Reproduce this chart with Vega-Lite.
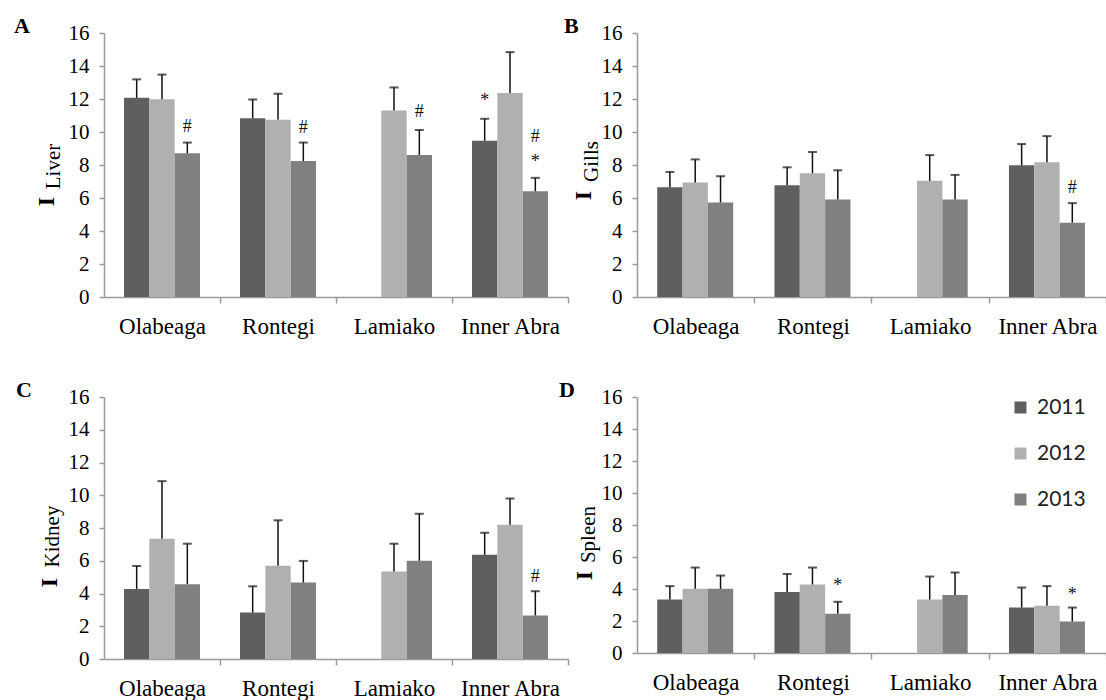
{
  "$schema": "https://vega.github.io/schema/vega-lite/v6.json",
  "padding": {"left": 14, "top": 15, "right": 0, "bottom": 0},
  "background": "white",
  "config": {
    "view": {"stroke": null},
    "axis": {"grid": false, "labelFont": "Liberation Serif", "titleFont": "Liberation Serif", "domainColor": "#9a9a9a", "tickColor": "#9a9a9a", "labelColor": "#000000", "titleColor": "#000000", "domainWidth": 1.5, "tickWidth": 1.5},
    "title": {"font": "Liberation Serif", "fontWeight": "bold", "fontSize": 22, "color": "#000000"}
  },
  "datasets": {
    "bars": [
      {"organ": "Liver", "site": "Olabeaga", "year": "2011", "mean": 12.07, "upper": 13.19},
      {"organ": "Liver", "site": "Olabeaga", "year": "2012", "mean": 11.99, "upper": 13.48},
      {"organ": "Liver", "site": "Olabeaga", "year": "2013", "mean": 8.71, "upper": 9.36},
      {"organ": "Liver", "site": "Rontegi", "year": "2011", "mean": 10.83, "upper": 11.97},
      {"organ": "Liver", "site": "Rontegi", "year": "2012", "mean": 10.75, "upper": 12.32},
      {"organ": "Liver", "site": "Rontegi", "year": "2013", "mean": 8.24, "upper": 9.36},
      {"organ": "Liver", "site": "Lamiako", "year": "2012", "mean": 11.3, "upper": 12.7},
      {"organ": "Liver", "site": "Lamiako", "year": "2013", "mean": 8.61, "upper": 10.12},
      {"organ": "Liver", "site": "Inner Abra", "year": "2011", "mean": 9.47, "upper": 10.8},
      {"organ": "Liver", "site": "Inner Abra", "year": "2012", "mean": 12.36, "upper": 14.84},
      {"organ": "Liver", "site": "Inner Abra", "year": "2013", "mean": 6.41, "upper": 7.22},
      {"organ": "Gills", "site": "Olabeaga", "year": "2011", "mean": 6.65, "upper": 7.58},
      {"organ": "Gills", "site": "Olabeaga", "year": "2012", "mean": 6.94, "upper": 8.34},
      {"organ": "Gills", "site": "Olabeaga", "year": "2013", "mean": 5.73, "upper": 7.32},
      {"organ": "Gills", "site": "Rontegi", "year": "2011", "mean": 6.77, "upper": 7.86},
      {"organ": "Gills", "site": "Rontegi", "year": "2012", "mean": 7.5, "upper": 8.79},
      {"organ": "Gills", "site": "Rontegi", "year": "2013", "mean": 5.91, "upper": 7.68},
      {"organ": "Gills", "site": "Lamiako", "year": "2012", "mean": 7.04, "upper": 8.6},
      {"organ": "Gills", "site": "Lamiako", "year": "2013", "mean": 5.91, "upper": 7.4},
      {"organ": "Gills", "site": "Inner Abra", "year": "2011", "mean": 7.98, "upper": 9.27},
      {"organ": "Gills", "site": "Inner Abra", "year": "2012", "mean": 8.16, "upper": 9.75},
      {"organ": "Gills", "site": "Inner Abra", "year": "2013", "mean": 4.5, "upper": 5.69},
      {"organ": "Kidney", "site": "Olabeaga", "year": "2011", "mean": 4.28, "upper": 5.68},
      {"organ": "Kidney", "site": "Olabeaga", "year": "2012", "mean": 7.35, "upper": 10.86},
      {"organ": "Kidney", "site": "Olabeaga", "year": "2013", "mean": 4.57, "upper": 7.04},
      {"organ": "Kidney", "site": "Rontegi", "year": "2011", "mean": 2.84, "upper": 4.44},
      {"organ": "Kidney", "site": "Rontegi", "year": "2012", "mean": 5.7, "upper": 8.47},
      {"organ": "Kidney", "site": "Rontegi", "year": "2013", "mean": 4.67, "upper": 5.99},
      {"organ": "Kidney", "site": "Lamiako", "year": "2012", "mean": 5.34, "upper": 7.04},
      {"organ": "Kidney", "site": "Lamiako", "year": "2013", "mean": 6.0, "upper": 8.87},
      {"organ": "Kidney", "site": "Inner Abra", "year": "2011", "mean": 6.37, "upper": 7.71},
      {"organ": "Kidney", "site": "Inner Abra", "year": "2012", "mean": 8.2, "upper": 9.8},
      {"organ": "Kidney", "site": "Inner Abra", "year": "2013", "mean": 2.66, "upper": 4.14},
      {"organ": "Spleen", "site": "Olabeaga", "year": "2011", "mean": 3.34, "upper": 4.18},
      {"organ": "Spleen", "site": "Olabeaga", "year": "2012", "mean": 4.01, "upper": 5.34},
      {"organ": "Spleen", "site": "Olabeaga", "year": "2013", "mean": 4.01, "upper": 4.84},
      {"organ": "Spleen", "site": "Rontegi", "year": "2011", "mean": 3.82, "upper": 4.94},
      {"organ": "Spleen", "site": "Rontegi", "year": "2012", "mean": 4.28, "upper": 5.34},
      {"organ": "Spleen", "site": "Rontegi", "year": "2013", "mean": 2.45, "upper": 3.2},
      {"organ": "Spleen", "site": "Lamiako", "year": "2012", "mean": 3.34, "upper": 4.78},
      {"organ": "Spleen", "site": "Lamiako", "year": "2013", "mean": 3.62, "upper": 5.03},
      {"organ": "Spleen", "site": "Inner Abra", "year": "2011", "mean": 2.84, "upper": 4.09},
      {"organ": "Spleen", "site": "Inner Abra", "year": "2012", "mean": 2.95, "upper": 4.18},
      {"organ": "Spleen", "site": "Inner Abra", "year": "2013", "mean": 1.97, "upper": 2.84}
    ],
    "ann": [
      {"organ": "Liver", "site": "Olabeaga", "year": "2013", "label": "#", "pos": 10.3},
      {"organ": "Liver", "site": "Rontegi", "year": "2013", "label": "#", "pos": 10.26},
      {"organ": "Liver", "site": "Lamiako", "year": "2013", "label": "#", "pos": 11.2},
      {"organ": "Liver", "site": "Inner Abra", "year": "2011", "label": "*", "pos": 11.9},
      {"organ": "Liver", "site": "Inner Abra", "year": "2013", "label": "#", "pos": 9.7},
      {"organ": "Liver", "site": "Inner Abra", "year": "2013", "label": "*", "pos": 8.2},
      {"organ": "Gills", "site": "Inner Abra", "year": "2013", "label": "#", "pos": 6.6},
      {"organ": "Kidney", "site": "Inner Abra", "year": "2013", "label": "#", "pos": 5.0},
      {"organ": "Spleen", "site": "Rontegi", "year": "2013", "label": "*", "pos": 4.2},
      {"organ": "Spleen", "site": "Inner Abra", "year": "2013", "label": "*", "pos": 3.65}
    ]
  },
  "columns": 2,
  "bounds": "flush",
  "align": "each",
  "spacing": {"row": 100, "column": 69},
  "resolve": {"legend": {"color": "independent"}},
  "concat": [
    {
      "width": 464, "height": 264,
      "title": {"text": "A", "anchor": "start", "frame": "group", "dx": -90, "offset": -16},
      "layer": [
        {
          "data": {"name": "bars"},
          "transform": [{"filter": "datum.organ === 'Liver'"}],
          "encoding": {
            "x": {"field": "site", "type": "nominal", "sort": ["Olabeaga", "Rontegi", "Lamiako", "Inner Abra"], "scale": {"domain": ["Olabeaga", "Rontegi", "Lamiako", "Inner Abra"], "paddingInner": 0.345, "paddingOuter": 0.1725}, "axis": {"title": null, "labelAngle": 0, "bandPosition": 1, "tickOffset": 20, "labelOffset": -20, "tickSize": 6, "labelPadding": 12, "labelFontSize": 23, "labelFont": "Liberation Serif"}},
            "xOffset": {"field": "year", "type": "nominal", "scale": {"domain": ["2011", "2012", "2013"], "paddingInner": 0, "paddingOuter": 0}},
            "y": {"field": "mean", "type": "quantitative", "scale": {"domain": [0, 16], "nice": false}, "axis": {"values": [0, 2, 4, 6, 8, 10, 12, 14, 16], "title": "Liver", "titleX": -45, "titleY": 133, "titleAngle": -90, "titleAlign": "center", "titleBaseline": "alphabetic", "titleFontWeight": "normal", "titleFontSize": 21, "labelFontSize": 21, "labelFont": "Liberation Serif", "tickSize": 5, "labelPadding": 10}}
          },
          "layer": [
            {"mark": {"type": "bar"}, "encoding": {"color": {"field": "year", "type": "nominal", "scale": {"domain": ["2011", "2012", "2013"], "range": ["#5f5f5f", "#b0b0b0", "#808080"]}, "legend": null}}},
            {"mark": {"type": "rule", "color": "#111111", "strokeWidth": 1.5}, "encoding": {"y2": {"field": "upper"}}},
            {"mark": {"type": "tick", "color": "#111111", "thickness": 2, "size": 9}, "encoding": {"y": {"field": "upper", "type": "quantitative", "title": "Liver"}}}
          ]
        },
        {
          "data": {"name": "ann"},
          "transform": [{"filter": "datum.organ === 'Liver'"}],
          "mark": {"type": "text", "font": "Liberation Serif", "fontSize": 18, "color": "#111111", "baseline": "middle"},
          "encoding": {
            "x": {"field": "site", "type": "nominal"},
            "xOffset": {"field": "year", "type": "nominal"},
            "y": {"field": "pos", "type": "quantitative", "scale": {"domain": [0, 16], "nice": false}, "axis": {"orient": "left", "title": "I", "labels": false, "ticks": false, "domain": false, "titleX": -51, "titleY": 168, "titleAngle": -90, "titleAlign": "center", "titleBaseline": "alphabetic", "titleFontWeight": "bold", "titleFontSize": 24}},
            "text": {"field": "label"}
          }
        }
      ],
      "resolve": {"scale": {"y": "independent"}}
    },
    {
      "width": 469, "height": 264,
      "title": {"text": "B", "anchor": "start", "frame": "group", "dx": -73, "offset": -16},
      "layer": [
        {
          "data": {"name": "bars"},
          "transform": [{"filter": "datum.organ === 'Gills'"}],
          "encoding": {
            "x": {"field": "site", "type": "nominal", "sort": ["Olabeaga", "Rontegi", "Lamiako", "Inner Abra"], "scale": {"domain": ["Olabeaga", "Rontegi", "Lamiako", "Inner Abra"], "paddingInner": 0.345, "paddingOuter": 0.1725}, "axis": {"title": null, "labelAngle": 0, "bandPosition": 1, "tickOffset": 20, "labelOffset": -20, "tickSize": 6, "labelPadding": 12, "labelFontSize": 23, "labelFont": "Liberation Serif"}},
            "xOffset": {"field": "year", "type": "nominal", "scale": {"domain": ["2011", "2012", "2013"], "paddingInner": 0, "paddingOuter": 0}},
            "y": {"field": "mean", "type": "quantitative", "scale": {"domain": [0, 16], "nice": false}, "axis": {"values": [0, 2, 4, 6, 8, 10, 12, 14, 16], "title": "Gills", "titleX": -40, "titleY": 128, "titleAngle": -90, "titleAlign": "center", "titleBaseline": "alphabetic", "titleFontWeight": "normal", "titleFontSize": 21, "labelFontSize": 21, "labelFont": "Liberation Serif", "tickSize": 5, "labelPadding": 10}}
          },
          "layer": [
            {"mark": {"type": "bar"}, "encoding": {"color": {"field": "year", "type": "nominal", "scale": {"domain": ["2011", "2012", "2013"], "range": ["#5f5f5f", "#b0b0b0", "#808080"]}, "legend": null}}},
            {"mark": {"type": "rule", "color": "#111111", "strokeWidth": 1.5}, "encoding": {"y2": {"field": "upper"}}},
            {"mark": {"type": "tick", "color": "#111111", "thickness": 2, "size": 9}, "encoding": {"y": {"field": "upper", "type": "quantitative", "title": "Gills"}}}
          ]
        },
        {
          "data": {"name": "ann"},
          "transform": [{"filter": "datum.organ === 'Gills'"}],
          "mark": {"type": "text", "font": "Liberation Serif", "fontSize": 18, "color": "#111111", "baseline": "middle"},
          "encoding": {
            "x": {"field": "site", "type": "nominal"},
            "xOffset": {"field": "year", "type": "nominal"},
            "y": {"field": "pos", "type": "quantitative", "scale": {"domain": [0, 16], "nice": false}, "axis": {"orient": "left", "title": "I", "labels": false, "ticks": false, "domain": false, "titleX": -47, "titleY": 162, "titleAngle": -90, "titleAlign": "center", "titleBaseline": "alphabetic", "titleFontWeight": "bold", "titleFontSize": 24}},
            "text": {"field": "label"}
          }
        }
      ],
      "resolve": {"scale": {"y": "independent"}}
    },
    {
      "width": 464, "height": 262,
      "title": {"text": "C", "anchor": "start", "frame": "group", "dx": -88, "offset": -16},
      "layer": [
        {
          "data": {"name": "bars"},
          "transform": [{"filter": "datum.organ === 'Kidney'"}],
          "encoding": {
            "x": {"field": "site", "type": "nominal", "sort": ["Olabeaga", "Rontegi", "Lamiako", "Inner Abra"], "scale": {"domain": ["Olabeaga", "Rontegi", "Lamiako", "Inner Abra"], "paddingInner": 0.345, "paddingOuter": 0.1725}, "axis": {"title": null, "labelAngle": 0, "bandPosition": 1, "tickOffset": 20, "labelOffset": -20, "tickSize": 6, "labelPadding": 12, "labelFontSize": 23, "labelFont": "Liberation Serif"}},
            "xOffset": {"field": "year", "type": "nominal", "scale": {"domain": ["2011", "2012", "2013"], "paddingInner": 0, "paddingOuter": 0}},
            "y": {"field": "mean", "type": "quantitative", "scale": {"domain": [0, 16], "nice": false}, "axis": {"values": [0, 2, 4, 6, 8, 10, 12, 14, 16], "title": "Kidney", "titleX": -46, "titleY": 139, "titleAngle": -90, "titleAlign": "center", "titleBaseline": "alphabetic", "titleFontWeight": "normal", "titleFontSize": 21, "labelFontSize": 21, "labelFont": "Liberation Serif", "tickSize": 5, "labelPadding": 10}}
          },
          "layer": [
            {"mark": {"type": "bar"}, "encoding": {"color": {"field": "year", "type": "nominal", "scale": {"domain": ["2011", "2012", "2013"], "range": ["#5f5f5f", "#b0b0b0", "#808080"]}, "legend": null}}},
            {"mark": {"type": "rule", "color": "#111111", "strokeWidth": 1.5}, "encoding": {"y2": {"field": "upper"}}},
            {"mark": {"type": "tick", "color": "#111111", "thickness": 2, "size": 9}, "encoding": {"y": {"field": "upper", "type": "quantitative", "title": "Kidney"}}}
          ]
        },
        {
          "data": {"name": "ann"},
          "transform": [{"filter": "datum.organ === 'Kidney'"}],
          "mark": {"type": "text", "font": "Liberation Serif", "fontSize": 18, "color": "#111111", "baseline": "middle"},
          "encoding": {
            "x": {"field": "site", "type": "nominal"},
            "xOffset": {"field": "year", "type": "nominal"},
            "y": {"field": "pos", "type": "quantitative", "scale": {"domain": [0, 16], "nice": false}, "axis": {"orient": "left", "title": "I", "labels": false, "ticks": false, "domain": false, "titleX": -48, "titleY": 185, "titleAngle": -90, "titleAlign": "center", "titleBaseline": "alphabetic", "titleFontWeight": "bold", "titleFontSize": 24}},
            "text": {"field": "label"}
          }
        }
      ],
      "resolve": {"scale": {"y": "independent"}}
    },
    {
      "width": 469, "height": 256,
      "title": {"text": "D", "anchor": "start", "frame": "group", "dx": -78, "offset": -16},
      "layer": [
        {
          "data": {"name": "bars"},
          "transform": [{"filter": "datum.organ === 'Spleen'"}],
          "encoding": {
            "x": {"field": "site", "type": "nominal", "sort": ["Olabeaga", "Rontegi", "Lamiako", "Inner Abra"], "scale": {"domain": ["Olabeaga", "Rontegi", "Lamiako", "Inner Abra"], "paddingInner": 0.345, "paddingOuter": 0.1725}, "axis": {"title": null, "labelAngle": 0, "bandPosition": 1, "tickOffset": 20, "labelOffset": -20, "tickSize": 6, "labelPadding": 12, "labelFontSize": 23, "labelFont": "Liberation Serif"}},
            "xOffset": {"field": "year", "type": "nominal", "scale": {"domain": ["2011", "2012", "2013"], "paddingInner": 0, "paddingOuter": 0}},
            "y": {"field": "mean", "type": "quantitative", "scale": {"domain": [0, 16], "nice": false}, "axis": {"values": [0, 2, 4, 6, 8, 10, 12, 14, 16], "title": "Spleen", "titleX": -43, "titleY": 137, "titleAngle": -90, "titleAlign": "center", "titleBaseline": "alphabetic", "titleFontWeight": "normal", "titleFontSize": 21, "labelFontSize": 21, "labelFont": "Liberation Serif", "tickSize": 5, "labelPadding": 10}}
          },
          "layer": [
            {"mark": {"type": "bar"}, "encoding": {"color": {"field": "year", "type": "nominal", "scale": {"domain": ["2011", "2012", "2013"], "range": ["#5f5f5f", "#b0b0b0", "#808080"]}, "legend": {"orient": "none", "legendX": 373, "legendY": 0, "title": null, "symbolType": "square", "symbolSize": 144, "symbolStrokeWidth": 0, "labelFont": "Lato", "labelFontSize": 21, "labelColor": "#222222", "rowPadding": 24, "labelOffset": 6, "padding": 0}}}},
            {"mark": {"type": "rule", "color": "#111111", "strokeWidth": 1.5}, "encoding": {"y2": {"field": "upper"}}},
            {"mark": {"type": "tick", "color": "#111111", "thickness": 2, "size": 9}, "encoding": {"y": {"field": "upper", "type": "quantitative", "title": "Spleen"}}}
          ]
        },
        {
          "data": {"name": "ann"},
          "transform": [{"filter": "datum.organ === 'Spleen'"}],
          "mark": {"type": "text", "font": "Liberation Serif", "fontSize": 18, "color": "#111111", "baseline": "middle"},
          "encoding": {
            "x": {"field": "site", "type": "nominal"},
            "xOffset": {"field": "year", "type": "nominal"},
            "y": {"field": "pos", "type": "quantitative", "scale": {"domain": [0, 16], "nice": false}, "axis": {"orient": "left", "title": "I", "labels": false, "ticks": false, "domain": false, "titleX": -46, "titleY": 178, "titleAngle": -90, "titleAlign": "center", "titleBaseline": "alphabetic", "titleFontWeight": "bold", "titleFontSize": 24}},
            "text": {"field": "label"}
          }
        }
      ],
      "resolve": {"scale": {"y": "independent"}}
    }
  ]
}
